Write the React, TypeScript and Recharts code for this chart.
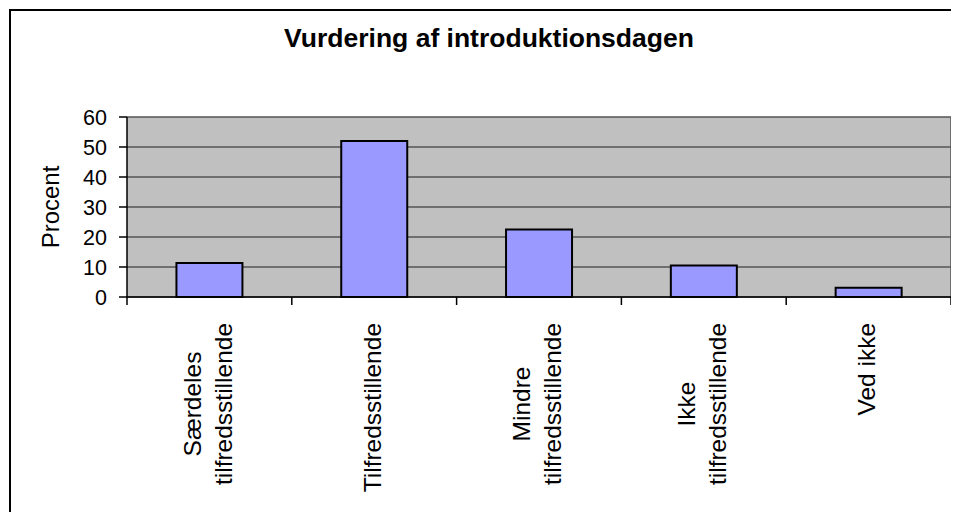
import React from 'react';
import { BarChart, Bar, XAxis, YAxis, CartesianGrid } from 'recharts';

// Data
const categories = [
  'Særdeles\ntilfredsstillende',
  'Tilfredsstillende',
  'Mindre\ntilfredsstillende',
  'Ikke\ntilfredsstillende',
  'Ved ikke',
];
const procent = [11.3, 52, 22.5, 10.5, 3.1];
const yTicks = [0, 10, 20, 30, 40, 50, 60];

const data = categories.map((name, i) => ({ name, procent: procent[i] }));

const CHART_W = 951;
const CHART_H = 504;
const MARGIN = { top: 109, right: 8, bottom: 15, left: 10 };
const Y_AXIS_W = 109;
const BAND = (CHART_W - MARGIN.left - Y_AXIS_W - MARGIN.right) / categories.length;
const FONT = '"Liberation Sans", Arial, sans-serif';
const LABEL_SIZE = 24.5;

let ctx: CanvasRenderingContext2D | null = null;
const measure = (s: string) => {
  if (!ctx) ctx = document.createElement('canvas').getContext('2d');
  if (!ctx) return s.length * LABEL_SIZE * 0.5;
  ctx.font = `${LABEL_SIZE}px ${FONT}`;
  return ctx.measureText(s).width;
};

const XTick = (props: any) => {
  const { x, y, payload, index } = props;
  const lines = String(payload.value).split('\n');
  const longest = Math.max(...lines.map(measure));
  const half = BAND / 2;
  const top = y + 18;
  return (
    <g>
      <line x1={x - half} x2={x - half} y1={y - 8} y2={y} stroke="#000" strokeWidth={1.5} />
      {index === categories.length - 1 && (
        <line x1={x + half} x2={x + half} y1={y - 8} y2={y} stroke="#000" strokeWidth={1.5} />
      )}
      <text
        transform={`translate(${x},${top}) rotate(-90)`}
        textAnchor="middle"
        fontSize={LABEL_SIZE}
        fill="#000"
      >
        {lines.map((l, i) => (
          <tspan key={i} x={-longest / 2} y={-2 + (i - (lines.length - 1) / 2) * 31 + 8.8}>
            {l}
          </tspan>
        ))}
      </text>
    </g>
  );
};

export default function App() {
  return (
    <div
      style={{
        position: 'relative',
        width: CHART_W,
        height: CHART_H,
        overflow: 'hidden',
        fontFamily: FONT,
        background: '#fff',
      }}
    >
      <div
        style={{
          position: 'absolute',
          left: 1,
          top: 1,
          width: 1200,
          height: 800,
          border: '2px solid #000',
        }}
      />
      <div
        style={{
          position: 'absolute',
          left: 0,
          top: 17,
          width: 962,
          textAlign: 'center',
          fontWeight: 'bold',
          fontSize: 26.5,
          lineHeight: '26px',
          color: '#000',
        }}
      >
        Vurdering af introduktionsdagen
      </div>
      <div style={{ position: 'absolute', left: 0, top: 0 }}>
        <BarChart width={CHART_W} height={CHART_H} data={data} margin={MARGIN} barCategoryGap="30%">
          <CartesianGrid
            vertical
            stroke="#555"
            strokeWidth={1.5}
            fill="#C0C0C0"
            fillOpacity={1}
            verticalCoordinatesGenerator={({ offset }: any) => [offset.left + offset.width]}
          />
          <XAxis
            dataKey="name"
            interval={0}
            height={200}
            tickLine={false}
            tickSize={8}
            tickMargin={0}
            axisLine={{ stroke: '#000', strokeWidth: 1.5 }}
            tick={<XTick />}
          />
          <YAxis
            domain={[0, 60]}
            ticks={yTicks}
            interval={0}
            width={Y_AXIS_W}
            tickSize={8}
            tickMargin={12}
            axisLine={{ stroke: '#000', strokeWidth: 1.5 }}
            tickLine={{ stroke: '#000', strokeWidth: 1.5 }}
            tick={{ fontSize: 21.5, fill: '#000' }}
            label={{
              value: 'Procent',
              angle: -90,
              position: 'insideLeft',
              offset: 32,
              style: { textAnchor: 'middle', fontSize: 24, fill: '#000' },
            }}
          />
          <Bar dataKey="procent" fill="#9999FF" stroke="#000" strokeWidth={2} isAnimationActive={false} />
        </BarChart>
      </div>
    </div>
  );
}
